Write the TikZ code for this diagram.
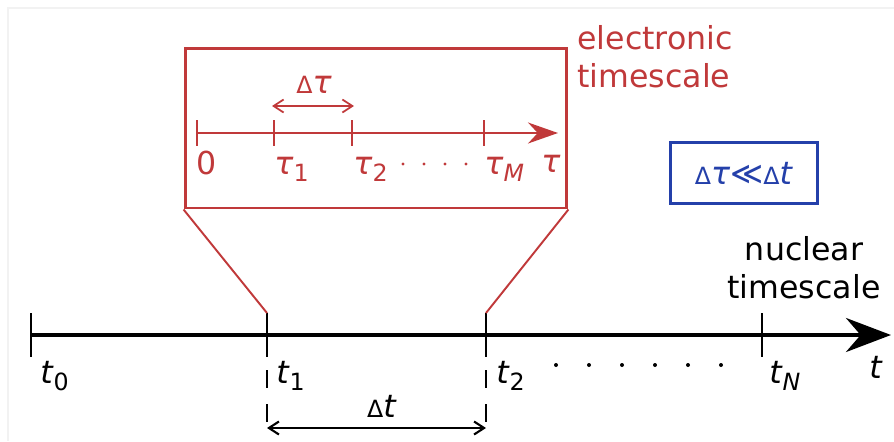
\documentclass[tikz,border=0pt]{standalone}
\usepackage{fontspec}
\setmainfont{DejaVu Sans}
\usetikzlibrary{arrows.meta}
\definecolor{electron}{RGB}{192,57,58}
\definecolor{ratio}{RGB}{36,64,170}
\tikzset{axis/.style={-{Stealth[length=0.9cm,width=0.68cm]},line width=2.3pt},
 eaxis/.style={-{Stealth[length=0.6cm,width=0.42cm]},line width=1.2pt,electron},
 span/.style={{Straight Barb[length=0.2cm,width=0.26cm]}-{Straight Barb[length=0.2cm,width=0.26cm]},line width=1.2pt},
 tick/.style={line width=1.2pt},
 every node/.style={font=\fontsize{18}{21.6}\selectfont,inner sep=0pt}}
\newcommand\lowsub[1]{\raisebox{-0.45ex}{\fontsize{13.5}{13.5}\selectfont #1}}
\newcommand\smalld{{\fontsize{13.5}{13.5}\selectfont Δ}}

\begin{document}
\begin{tikzpicture}[x=0.02cm,y=-0.02cm]
\useasboundingbox (0,0) rectangle (894,441);
\draw[black!5,line width=0.6pt] (8,441) |- (894,8);
% nuclear time axis
\coordinate (t0) at (31,335);
\coordinate (t1) at (267,335);
\coordinate (t2) at (486,335);
\coordinate (tN) at (762,335);
\coordinate (tend) at (891,335);
\draw[axis] (t0)--(tend);
\foreach \p in {t0,t1,t2,tN} \draw[tick] (\p) ++(0,-22) -- ++(0,44);
\node[anchor=base west] (lt0) at (40,383) {\textit{t}\lowsub{0}};
\node[anchor=base west] (lt1) at (276,383) {\textit{t}\lowsub{1}};
\node[anchor=base west] (lt2) at (496,383) {\textit{t}\lowsub{2}};
\node[anchor=base west] (ltN) at (769,383) {\textit{t}\lowsub{\textit{N}}};
\node[anchor=base west] (lt) at (869,378) {\textit{t}};
\foreach \i in {0,...,5} \fill (556+33*\i,365) circle (2);
% step width
\coordinate (d1) at (267,428);
\coordinate (d2) at (486,428);
\draw[tick,dash pattern=on 10pt off 9.5pt] (t1) ++(0,35) -- (d1);
\draw[tick,dash pattern=on 10pt off 9.5pt] (t2) ++(0,35) -- (d2);
\draw[span] (d1)--(d2);
\node (dt) at (382,406) {\smalld\textit{t}};
\node[align=center] (nuc) at (804,268) {nuclear\\timescale};
% zoomed electronic axis
\node[draw=electron,line width=1.7pt,minimum width=7.64cm,minimum height=3.2cm] (zoom) at (376,128) {};
\draw[electron,line width=1.1pt] (t1) ++(0,-22) -- (zoom.south west);
\draw[electron,line width=1.1pt] (t2) ++(0,-22) -- (zoom.south east);
\coordinate (e0) at (197,133);
\coordinate (e1) at (274,133);
\coordinate (e2) at (352,133);
\coordinate (eM) at (484,133);
\coordinate (eend) at (558,133);
\draw[eaxis] (e0)--(eend);
\foreach \p in {e0,e1,e2,eM} \draw[tick,electron] (\p) ++(0,-13) -- ++(0,26);
\begin{scope}[every node/.append style={electron,anchor=base west}]
\node (l0) at (196,174) {0};
\node (l1) at (274,174) {\textit{τ}\lowsub{1}};
\node (l2) at (353,174) {\textit{τ}\lowsub{2}};
\node (lM) at (484,174) {\textit{τ}\lowsub{\textit{M}}};
\node (ltau) at (541,172) {\textit{τ}};
\end{scope}
\foreach \i in {0,...,3} \fill[electron] (403+21*\i,164) circle (1.6);
\coordinate (s1) at (272,106);
\coordinate (s2) at (354,106);
\draw[span,electron,line width=1pt] (s1)--(s2);
\node[electron] (dtau) at (314,85) {\smalld\textit{τ}};
\node[electron,anchor=north west,align=left] (elec) at (577,25) {electronic\\timescale};
% ratio
\node[draw=ratio,line width=1.2pt,text=ratio,minimum width=2.94cm,minimum height=1.22cm] (ratio) at (744,173) {\smalld\textit{τ}≪\smalld\textit{t}};
\end{tikzpicture}
\end{document}
